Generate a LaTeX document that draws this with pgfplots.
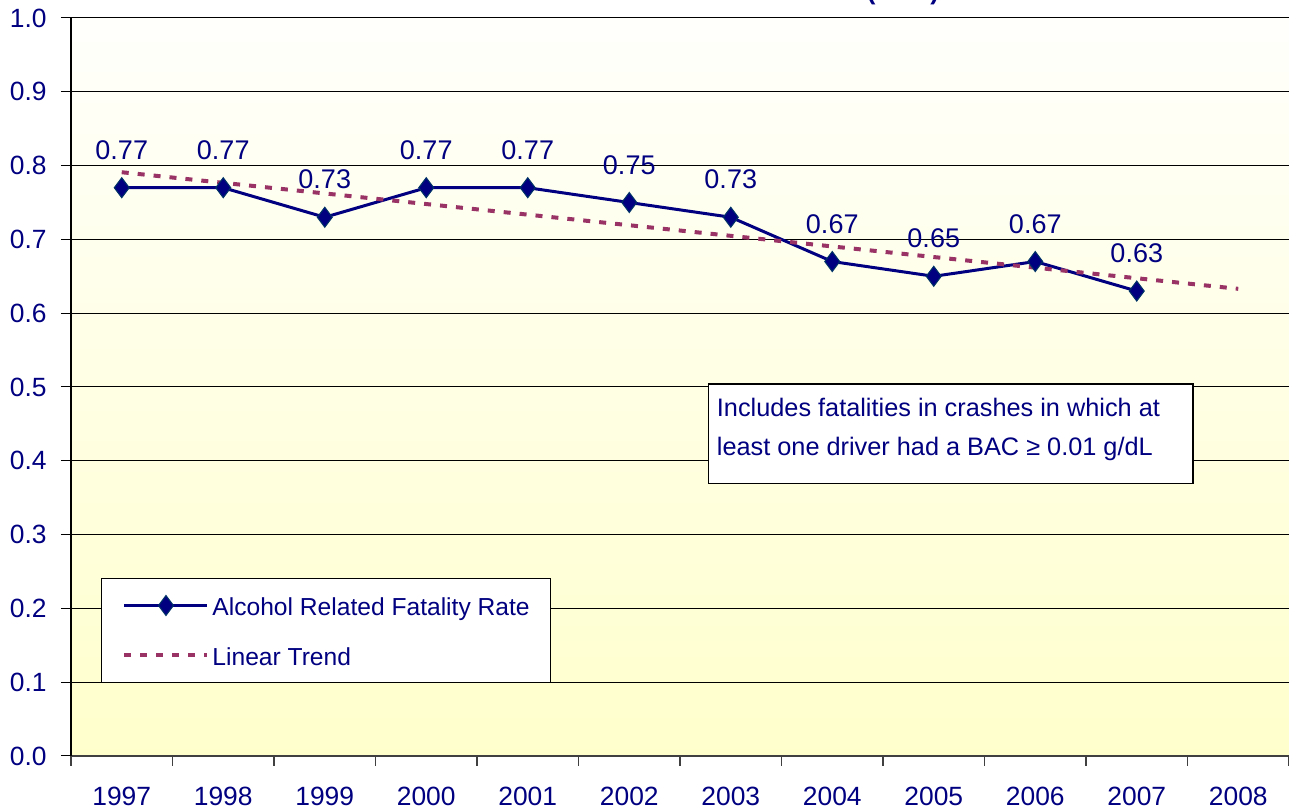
\documentclass[border=0pt]{standalone}
\usepackage{fontspec}
\setmainfont{Liberation Sans}
\usepackage{pgfplots}
\pgfplotsset{compat=1.18}
\definecolor{navy}{RGB}{0,0,128}
\definecolor{mkborder}{RGB}{0,51,102}
\definecolor{trend}{RGB}{153,51,102}
\definecolor{bgbottom}{RGB}{255,255,204}
\definecolor{bgtop}{RGB}{255,255,252}
\begin{document}
\begin{tikzpicture}[font=\fontsize{13.2}{15.8}\selectfont]
\begin{axis}[
  name=ax, at={(0,0)}, anchor=south west,
  scale only axis, width=609pt, height=369pt,
  xmin=-0.5, xmax=11.5, ymin=0, ymax=1,
  axis lines*=left, axis line style={-},
  x axis line style={black!75, line width=0.8pt},
  y axis line style={black, line width=0.6pt},
  axis background/.style={shade, top color=bgtop, bottom color=bgbottom},
  xtick={0,1,2,3,4,5,6,7,8,9,10,11},
  xticklabels={1997,1998,1999,2000,2001,2002,2003,2004,2005,2006,2007,2008},
  minor xtick={-0.5,0.5,1.5,2.5,3.5,4.5,5.5,6.5,7.5,8.5,9.5,10.5,11.5},
  major x tick style={draw=none},
  minor x tick style={black!75, line width=0.6pt},
  minor tick length=5pt, major tick length=5pt,
  tick align=outside,
  ytick={0,0.1,0.2,0.3,0.4,0.5,0.6,0.7,0.8,0.9,1.0},
  y tick style={black, line width=0.5pt},
  ymajorgrids, major grid style={black, line width=0.5pt},
  /pgf/number format/.cd, fixed, fixed zerofill, precision=1, assume math mode=true,
  /pgfplots/.cd,
  ticklabel style={text=navy, font=\fontsize{13.2}{15.8}\selectfont},
  yticklabel style={inner sep=0pt, anchor=east, xshift=-7pt},
  xticklabel style={inner sep=0pt, anchor=base, yshift=-19.85pt},
  legend style={at={(rel axis cs:0.0246,0.2412)}, anchor=north west,
    draw=black, line width=0.5pt, fill=white, legend cell align=left,
    inner xsep=10.5pt, inner ysep=7.5pt, row sep=13pt,
    font=\fontsize{12.3}{14.6}\selectfont,
    nodes={inner sep=0pt, text height=11pt, text depth=1pt, text=navy},
    /tikz/every odd column/.append style={column sep=1.5pt}},
  legend image code/.code={\draw[mark repeat=2, mark phase=2, #1] plot coordinates {(0pt,0pt) (20.75pt,0pt) (41.5pt,0pt)};},
  clip=false,
]
\addplot[color=navy, line width=1.5pt, mark=diamond*, mark size=5pt,
  mark options={solid, fill=navy, draw=mkborder, line width=0.5pt},
  point meta=explicit symbolic, nodes near coords,
  nodes near coords style={anchor=base, inner sep=0pt, yshift=14.2pt, text=navy, font=\fontsize{13.5}{16}\selectfont}]
  coordinates {
  (0,0.77) [0.77]
  (1,0.77) [0.77]
  (2,0.73) [0.73]
  (3,0.77) [0.77]
  (4,0.77) [0.77]
  (5,0.75) [0.75]
  (6,0.73) [0.73]
  (7,0.67) [0.67]
  (8,0.65) [0.65]
  (9,0.67) [0.67]
  (10,0.63) [0.63]
  };
\addlegendentry{Alcohol Related Fatality Rate}
\addplot[color=trend, line width=2pt, dash pattern=on 3.5pt off 4.5pt]
  coordinates {(0,0.791) (11,0.633)};
\addlegendentry{Linear Trend}
\draw[black, line width=0.75pt, fill=white] (rel axis cs:0.5234,0.504) rectangle (rel axis cs:0.9213,0.3692);
\node[anchor=base west, inner sep=0pt, text=navy, font=\fontsize{12.65}{15}\selectfont] at (rel axis cs:0.530,0.4603) {Includes fatalities in crashes in which at};
\node[anchor=base west, inner sep=0pt, text=navy, font=\fontsize{12.65}{15}\selectfont] at (rel axis cs:0.530,0.4069) {least one driver had a BAC ≥ 0.01 g/dL};
\end{axis}
\node[anchor=base, inner sep=0pt, text=navy, font=\fontsize{13}{15}\bfseries\selectfont] at (416pt,378pt) {(VMT)};
\pgfresetboundingbox
\path[use as bounding box] (-35.5pt,-28pt) rectangle (609pt,378pt);
\end{tikzpicture}
\end{document}
